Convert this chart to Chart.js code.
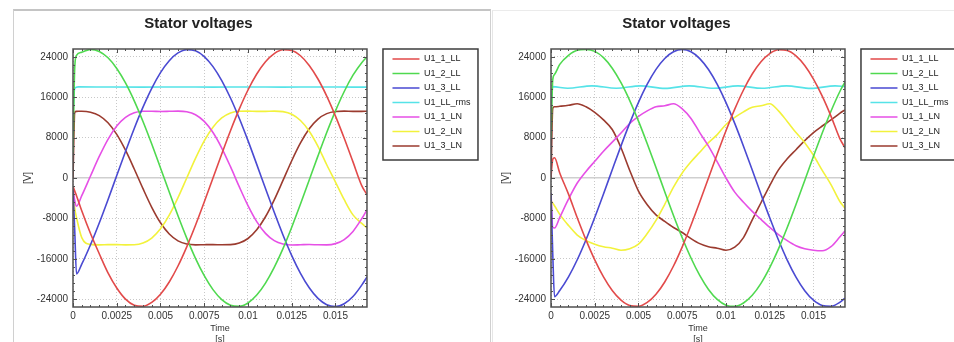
<!DOCTYPE html>
<html>
<head>
<meta charset="utf-8">
<script src="https://cdn.jsdelivr.net/npm/chart.js@4.4.1/dist/chart.umd.min.js"></script>
<style>
  html, body { margin: 0; padding: 0; background: #fff; width: 954px; height: 342px; overflow: hidden; }
  .panel { position: absolute; box-sizing: border-box; height: 340px; }
  #panelA { left: 13px; top: 9px; width: 478px; border-top: 2px solid #c4c4c4; border-left: 1px solid #d0d0d0; border-right: 1px solid #d0d0d0; }
  #panelB { left: 492px; top: 10px; width: 470px; border-top: 1px solid #ebebeb; border-left: 1px solid #e6e6e6; }
  canvas { position: absolute; top: 10px; }
  #chartA { left: 14px; }
  #chartB { left: 492px; }
</style>
</head>
<body>
<div class="panel" id="panelA"></div>
<div class="panel" id="panelB"></div>
<canvas id="chartA" width="476" height="340"></canvas>
<canvas id="chartB" width="476" height="340"></canvas>
<script>
const TITLE = "Stator voltages";
const names = ["U1_1_LL", "U1_2_LL", "U1_3_LL", "U1_LL_rms", "U1_1_LN", "U1_2_LN", "U1_3_LN"];
const colors = ["#e24a4a", "#4fd94f", "#4a4ad2", "#56e3e8", "#e650e6", "#f2f23c", "#9b3b2f"];

const xTicks = [0, 0.0025, 0.005, 0.0075, 0.01, 0.0125, 0.015];
const yTicks = [-24000, -16000, -8000, 0, 8000, 16000, 24000];

// shared sample times [s]
const timeGrid = [0, 0.0001, 0.0002, 0.0005, 0.001, 0.0015, 0.002, 0.0025, 0.003, 0.0035, 0.004, 0.0045,
  0.005, 0.0055, 0.006, 0.0065, 0.007, 0.0075, 0.008, 0.0085, 0.009, 0.0095, 0.01, 0.0105, 0.011, 0.0115,
  0.012, 0.0125, 0.013, 0.0135, 0.014, 0.0145, 0.015, 0.0155, 0.016, 0.0165, 0.0168];

// left chart [V]
const leftLL1 = [-1600, -2600, -3500, -6500, -11000, -15000, -18800, -21800, -24000, -25200, -25400, -24650,
  -23030, -20590, -17430, -13630, -9370, -4770, 0, 4770, 9370, 13630, 17430, 20590, 23030, 24650,
  25400, 25250, 24210, 22300, 19610, 16220, 12260, 7870, 3190, -1500, -3300];
const leftLL2 = [5000, 22000, 24300, 24900, 25450, 25070, 23810, 21700, 18830, 15280, 11190, 6720,
  2000, -2790, -7480, -11910, -15910, -19350, -22110, -24080, -25200, -25420, -24750, -23190, -20820, -17710,
  -13980, -9740, -5160, -400, 4380, 9000, 13290, 17130, 20360, 22850, 23980];
const leftLL3 = [-2000, -10500, -19000, -17070, -13220, -8910, -4290, 480, 5240, 9820, 14040, 17770,
  20870, 23230, 24770, 25430, 25180, 24050, 22060, 19290, 15840, 11830, 7400, 2700, -2090, -6800,
  -11280, -15360, -18880, -21740, -23840, -25090, -25450, -24900, -23480, -21220, -19600];
const leftRmsTime = [0, 0.0001, 0.0003, 0.002, 0.004, 0.006, 0.008, 0.01, 0.012, 0.014, 0.016, 0.0168];
const leftRms = [13000, 17800, 18050, 18020, 18000, 18030, 18000, 18020, 18000, 18030, 18000, 17990];
const leftLN1 = [-2000, -4500, -5600, -3500, 400, 4270, 7670, 10300, 12020, 12930, 13230, 13230,
  13180, 13210, 13250, 13120, 12530, 11210, 9000, 5930, 2240, -1720, -5470, -8640, -10970, -12410,
  -13080, -13260, -13220, -13180, -13230, -13250, -13000, -12190, -10580, -8070, -6300];
const leftLN2 = [-2000, -6000, -7800, -11800, -13150, -13250, -13200, -13190, -13250, -13220, -12870, -11890,
  -10070, -7360, -3890, 0, 3890, 7360, 10070, 11890, 12870, 13220, 13250, 13190, 13200, 13250,
  13150, 12620, 11380, 9270, 6280, 2620, -800, -4300, -7300, -9000, -9900];
const leftLN3 = [0, 13000, 13200, 13230, 13040, 12360, 10940, 8640, 5510, 1790, -2120, -5800,
  -8870, -11100, -12450, -13080, -13240, -13210, -13190, -13230, -13200, -12870, -11980, -10270, -7680, -4320,
  -480, 3420, 6940, 9740, 11670, 12750, 13180, 13250, 13200, 13200, 13220];

// right chart [V]
const rightLL1 = [300, 3700, 4000, 1000, -3190, -7860, -12260, -16220, -19600, -22300, -24200, -25250,
  -25400, -24650, -23030, -20590, -17430, -13630, -9370, -4770, 0, 4770, 9370, 13630, 17430, 20590,
  23030, 24650, 25400, 25250, 24200, 22300, 19600, 16220, 12260, 7860, 6000];
const rightLL2 = [8000, 19500, 20500, 22500, 24300, 25300, 25450, 25080, 23840, 21740, 18880, 15340,
  11270, 6790, 2080, -2710, -7410, -11840, -15850, -19300, -22070, -24050, -25180, -25430, -24760, -23230,
  -20870, -17760, -14040, -9810, -5240, -480, 4300, 8920, 13230, 17080, 19000];
const rightLL3 = [-3000, -15000, -23500, -22280, -19580, -16190, -12220, -7820, -3160, 1630, 6360, 10860,
  14990, 18580, 21510, 23680, 25000, 25450, 24990, 23650, 21480, 18530, 14930, 10810, 6300, 1570,
  -3220, -7890, -12290, -16250, -19630, -22320, -24210, -25250, -25400, -24640, -23800];
const rightRmsTime = [0, 0.0001, 0.00095, 0.00234, 0.00373, 0.00512, 0.00651, 0.0079, 0.00929, 0.01068,
  0.01207, 0.01346, 0.01485, 0.01624, 0.0168];
const rightRms = [14000, 18100, 17780, 18250, 17780, 18250, 17760, 18250, 17770, 18240,
  17770, 18250, 17760, 18250, 18100];
const rightLN1 = [-3000, -9800, -9900, -7800, -4200, -1000, 1300, 3300, 5300, 7100, 8900, 10800,
  12200, 13300, 14100, 14300, 14700, 13700, 11800, 9000, 6300, 3200, 0, -2800, -4800, -6600,
  -8200, -9800, -11200, -12400, -13400, -14000, -14300, -14400, -13600, -11700, -10500];
const rightLN2 = [-4500, -5000, -5500, -7200, -9400, -11300, -12400, -13100, -13600, -13900, -14300, -14000,
  -13100, -11000, -8400, -5200, -1800, 1000, 3200, 5100, 7000, 8600, 10600, 12000, 13100, 14000,
  14300, 14700, 13300, 11200, 9000, 7000, 4500, 1500, -1300, -4600, -6000];
const rightLN3 = [0, 13800, 14100, 14200, 14400, 14700, 14100, 13000, 11500, 9600, 6000, 1500,
  -2600, -5300, -7300, -8600, -9800, -10800, -12000, -13000, -13600, -13900, -14300, -13700, -11800, -8300,
  -4900, -1500, 1600, 3800, 5600, 7400, 9000, 10300, 11500, 12800, 13500];

const X_MAX = 0.0168;
const Y_LIM = 25550;

function pairs(times, values) {
  return times.map((t, i) => ({ x: t, y: values[i] }));
}

// frame, inward ticks, legend box and title
const framePlugin = {
  id: "frame",
  afterDraw(chart) {
    const { ctx, chartArea: a, scales: { x, y }, legend } = chart;
    ctx.save();
    ctx.strokeStyle = "#505050";
    ctx.lineWidth = 1;
    ctx.beginPath();
    const xMinor = (xTicks[1] - xTicks[0]) / 5;
    for (let i = 0; i * xMinor <= x.max; i++) {
      const px = Math.round(x.getPixelForValue(i * xMinor)) + 0.5;
      const len = i % 5 === 0 ? 4 : 2;
      ctx.moveTo(px, a.top);
      ctx.lineTo(px, a.top + len);
      ctx.moveTo(px, a.bottom);
      ctx.lineTo(px, a.bottom - len);
    }
    const yMinor = (yTicks[1] - yTicks[0]) / 5;
    for (let i = Math.ceil(y.min / yMinor); i * yMinor <= y.max; i++) {
      const py = Math.round(y.getPixelForValue(i * yMinor)) + 0.5;
      const len = i % 5 === 0 ? 4 : 2;
      ctx.moveTo(a.left, py);
      ctx.lineTo(a.left + len, py);
      ctx.moveTo(a.right, py);
      ctx.lineTo(a.right - len, py);
    }
    ctx.stroke();
    ctx.lineWidth = 1.5;
    ctx.strokeRect(a.left, a.top, a.right - a.left, a.bottom - a.top);

    const boxLeft = legend.left - 4;
    ctx.strokeStyle = "#3c3c3c";
    ctx.strokeRect(boxLeft, legend.top, 95, 111);

    ctx.fillStyle = "#222";
    ctx.font = 'bold 15px "Liberation Sans", Arial, sans-serif';
    ctx.textAlign = "center";
    ctx.textBaseline = "middle";
    ctx.fillText(TITLE, boxLeft / 2, 14);
    ctx.restore();
  }
};

Chart.defaults.font.family = '"Liberation Sans", Arial, sans-serif';
Chart.defaults.color = "#333";

function makeChart(canvasId, series) {
  const datasets = series.map((s, i) => ({
    label: names[i],
    data: pairs(s.times, s.values),
    borderColor: colors[i],
    backgroundColor: colors[i],
    borderWidth: 1.6,
    pointRadius: 0,
    cubicInterpolationMode: "monotone",
    fill: false
  }));

  return new Chart(document.getElementById(canvasId), {
    type: "line",
    data: { datasets },
    plugins: [framePlugin],
    options: {
      responsive: false,
      animation: false,
      layout: { padding: { top: 39, left: 6, right: 9.5, bottom: 0 } },
      plugins: {
        title: { display: false },
        tooltip: { enabled: false },
        legend: {
          position: "right",
          align: "start",
          maxWidth: 130,
          labels: {
            boxWidth: 27,
            boxHeight: 0,
            padding: 5.5,
            color: "#222",
            font: { size: 9 }
          }
        }
      },
      scales: {
        x: {
          type: "linear",
          min: 0,
          max: X_MAX,
          afterBuildTicks: (scale) => { scale.ticks = xTicks.map((v) => ({ value: v })); },
          afterFit: (scale) => { scale.height = 43; },
          ticks: {
            padding: 3,
            maxRotation: 0,
            autoSkip: false,
            font: { size: 10 },
            callback: (v) => String(+Number(v).toFixed(4))
          },
          grid: { color: "#c8c8c8", lineWidth: 1, drawTicks: false },
          border: { display: false, dash: [1, 2] },
          title: {
            display: true,
            text: ["Time", "[s]"],
            font: { size: 9 },
            padding: { top: 0, bottom: 4.8 }
          }
        },
        y: {
          type: "linear",
          min: -Y_LIM,
          max: Y_LIM,
          afterBuildTicks: (scale) => { scale.ticks = yTicks.map((v) => ({ value: v })); },
          afterFit: (scale) => { scale.width = 53; },
          ticks: {
            padding: 5,
            font: { size: 10 },
            callback: (v) => String(v)
          },
          grid: {
            drawTicks: false,
            color: (c) => (c.tick && c.tick.value === 0 ? "#cfcfcf" : "#c8c8c8"),
            lineWidth: (c) => (c.tick && c.tick.value === 0 ? 1.5 : 1)
          },
          border: {
            display: false,
            dash: (c) => (c.tick && c.tick.value === 0 ? [] : [1, 2])
          },
          title: {
            display: true,
            text: "[V]",
            font: { size: 10 },
            padding: { top: 2, bottom: 0 }
          }
        },
        gap: {
          type: "linear",
          position: "right",
          display: true,
          grid: { display: false },
          ticks: { display: false },
          border: { display: false },
          afterFit: (scale) => { scale.width = 20; }
        }
      }
    }
  });
}

makeChart("chartA", [
  { times: timeGrid, values: leftLL1 },
  { times: timeGrid, values: leftLL2 },
  { times: timeGrid, values: leftLL3 },
  { times: leftRmsTime, values: leftRms },
  { times: timeGrid, values: leftLN1 },
  { times: timeGrid, values: leftLN2 },
  { times: timeGrid, values: leftLN3 }
]);

makeChart("chartB", [
  { times: timeGrid, values: rightLL1 },
  { times: timeGrid, values: rightLL2 },
  { times: timeGrid, values: rightLL3 },
  { times: rightRmsTime, values: rightRms },
  { times: timeGrid, values: rightLN1 },
  { times: timeGrid, values: rightLN2 },
  { times: timeGrid, values: rightLN3 }
]);
</script>
</body>
</html>
